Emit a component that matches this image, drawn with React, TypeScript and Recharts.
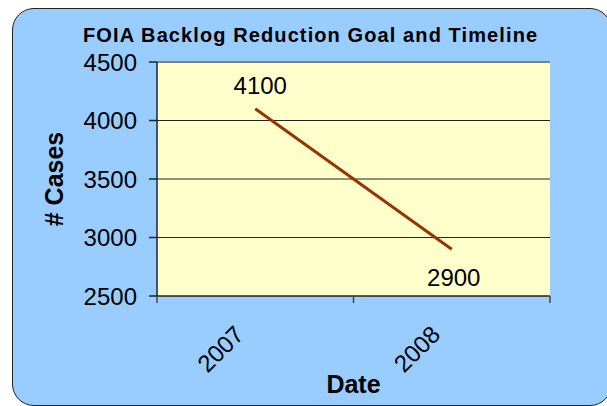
import { CartesianGrid, Label, LabelList, Line, LineChart, ReferenceLine, XAxis, YAxis } from "recharts";

const categories = ["2007", "2008"];
const cases = [4100, 2900];
const yTicks = [2500, 3000, 3500, 4000, 4500];
const innerGrid = [3000, 3500, 4000];

const data = categories.map((c, i) => ({ x: i + 0.5, year: c, cases: cases[i] }));
const xTicks = [0, 0.5, 1, 1.5, 2];

const FONT = "'Liberation Sans', Arial, sans-serif";

// Excel-style category axis: tick marks between categories, labels at the centres
function XTick(props: any) {
  const { x, y, payload } = props;
  const v = payload.value as number;
  if (Number.isInteger(v)) {
    return <line x1={x} y1={y - 2} x2={x} y2={y + 5} stroke="#444" strokeWidth={1.5} />;
  }
  const label = categories[Math.floor(v)];
  const ax = x - 16;
  const ay = y + 32;
  return (
    <text
      x={ax}
      y={ay}
      transform={`rotate(-45, ${ax}, ${ay})`}
      textAnchor="end"
      dominantBaseline="central"
      fontSize={24}
      fontFamily={FONT}
      fill="#000"
    >
      {label}
    </text>
  );
}

function ValueLabel(props: any) {
  const { x, y, value, index } = props;
  const above = index === 0;
  return (
    <text
      x={above ? x + 5 : x + 2}
      y={above ? y - 23 : y + 28}
      textAnchor="middle"
      dominantBaseline="central"
      fontSize={24}
      fontFamily={FONT}
      fill="#000"
    >
      {value}
    </text>
  );
}

export default function App() {
  return (
    <div
      style={{
        position: "absolute",
        left: 0,
        top: 0,
        width: 607,
        height: 406,
        overflow: "hidden",
        fontFamily: FONT,
      }}
    >
      <div
        style={{
          position: "absolute",
          left: 12,
          top: 8,
          width: 600,
          height: 398,
          boxSizing: "border-box",
          background: "#99CCFF",
          border: "1.5px solid #222",
          borderRadius: 22,
        }}
      />
      <div
        style={{
          position: "absolute",
          left: 83,
          top: 25,
          whiteSpace: "nowrap",
          lineHeight: "20px",
          fontWeight: "bold",
          fontSize: 20,
          letterSpacing: 1.1,
        }}
      >
        FOIA Backlog Reduction Goal and Timeline
      </div>
      <div style={{ position: "absolute", left: 0, top: 0 }}>
        <LineChart width={607} height={406} data={data} margin={{ top: 62, right: 57, bottom: 6, left: 0 }}>
          <CartesianGrid
            vertical={false}
            stroke="#222"
            fill="#FFFFCC"
            fillOpacity={1}
            horizontalValues={innerGrid}
          />
          <XAxis
            dataKey="x"
            type="number"
            domain={[0, 2]}
            ticks={xTicks}
            tick={<XTick />}
            tickLine={false}
            tickSize={0}
            height={104}
            stroke="#222"
            strokeWidth={1.5}
            interval={0}
          >
            <Label
              value="Date"
              position="insideBottom"
              offset={7}
              fontSize={25}
              fontWeight="bold"
              fill="#000"
              fontFamily={FONT}
            />
          </XAxis>
          <YAxis
            domain={[2500, 4500]}
            ticks={yTicks}
            width={157}
            tickSize={8}
            tickMargin={12}
            stroke="#222"
            strokeWidth={1.5}
            tick={{ fontSize: 24, fill: "#000", fontFamily: FONT }}
            interval={0}
          >
            <Label
              value="# Cases"
              angle={-90}
              position="insideLeft"
              offset={54}
              fontSize={25}
              fontWeight="bold"
              fill="#000"
              fontFamily={FONT}
              style={{ textAnchor: "middle" }}
            />
          </YAxis>
          <YAxis
            yAxisId="frame"
            orientation="right"
            domain={[2500, 4500]}
            width={0}
            tick={false}
            tickLine={false}
            stroke="#808080"
            strokeWidth={2}
          />
          <ReferenceLine y={4500} stroke="#808080" strokeWidth={2} />
          <Line
            dataKey="cases"
            stroke="#993300"
            strokeWidth={3}
            dot={false}
            isAnimationActive={false}
          >
            <LabelList dataKey="cases" content={<ValueLabel />} />
          </Line>
        </LineChart>
      </div>
    </div>
  );
}
